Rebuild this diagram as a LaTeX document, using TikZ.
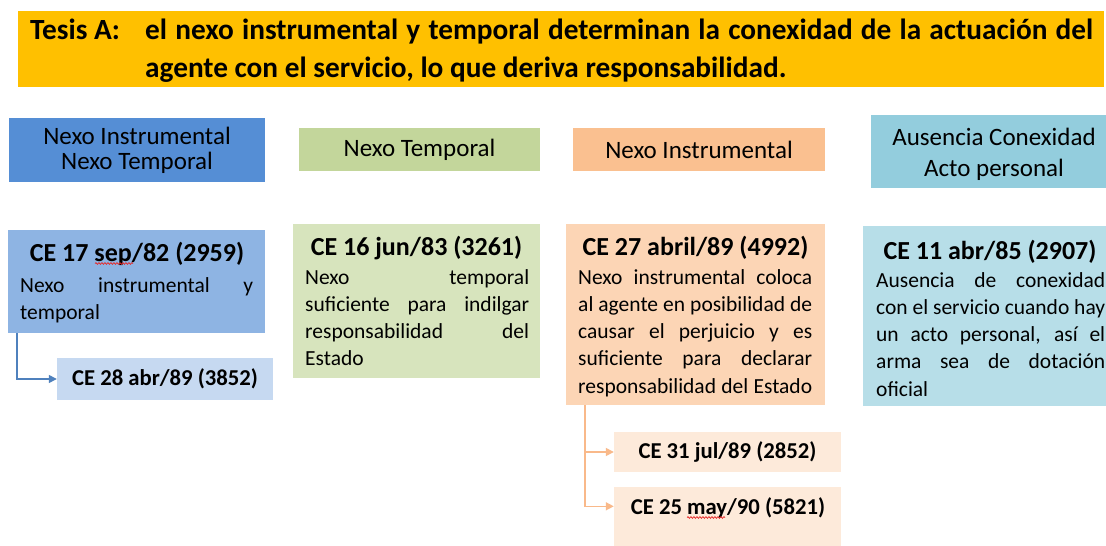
\documentclass[tikz,border=0pt]{standalone}
\usepackage{fontspec}
\setmainfont{Carlito}
\usetikzlibrary{arrows.meta,decorations.pathmorphing}
\definecolor{gold}{RGB}{255,192,0}
\definecolor{hblue}{RGB}{85,142,213}
\definecolor{bblue}{RGB}{142,180,227}
\definecolor{lblue}{RGB}{198,217,241}
\definecolor{hgreen}{RGB}{195,214,155}
\definecolor{bgreen}{RGB}{215,228,189}
\definecolor{horange}{RGB}{250,192,144}
\definecolor{borange}{RGB}{252,213,181}
\definecolor{lorange}{RGB}{253,234,218}
\definecolor{hteal}{RGB}{147,205,221}
\definecolor{bteal}{RGB}{183,222,232}
\definecolor{arblue}{RGB}{79,129,189}
\definecolor{arorange}{RGB}{249,185,138}
\definecolor{spellred}{RGB}{230,40,40}
\newcommand\spr[2]{\makebox[#1][s]{#2}}
\newcommand\bodyf{\fontsize{21.5}{27.3}\selectfont}
\begin{document}
\begin{tikzpicture}[x=1pt,y=-1pt,
  box/.style={rectangle, inner sep=0pt, draw=none},
  hdr/.style={box, align=center, font=\fontsize{25}{25}\selectfont},
  cehead/.style={inner sep=0pt, anchor=base, font=\bfseries\fontsize{26}{30}\selectfont},
  cesmall/.style={box, font=\bfseries\fontsize{22.7}{26}\selectfont},
  bodytext/.style={inner sep=0pt, anchor=base west},
  conn/.style={-{Triangle[length=8pt,width=8pt]}, line width=1.4pt},
  spell/.style={spellred, line width=0.7pt, decorate, decoration={snake, amplitude=0.9pt, segment length=3pt}}]
\useasboundingbox (0,0) rectangle (1106,546);
\clip (0,0) rectangle (1106,546);
\fill[white] (0,0) rectangle (1106,546);

% title banner
\node[box, fill=gold, minimum width=1086pt, minimum height=76pt] (banner) at (561,49) {};
\node[inner sep=0pt, anchor=base west, font=\bfseries\fontsize{29.3}{38}\selectfont] (tesis) at (30,39.5) {Tesis A:};
\node[inner sep=0pt, anchor=base west] (titletext) at (145,39.5) {\parbox[t]{948pt}{\bfseries\fontsize{29.3}{38}\selectfont
\spr{948pt}{el nexo instrumental y temporal determinan la conexidad de la actuación del}\\
agente con el servicio, lo que deriva responsabilidad.}};

% headers
\node[hdr, fill=hblue, minimum width=256pt, minimum height=64pt] (h1) at (137,150) {Nexo Instrumental\\Nexo Temporal};
\node[hdr, fill=hgreen, minimum width=241pt, minimum height=43pt] (h2) at (419.5,149.5) {Nexo Temporal};
\node[hdr, fill=horange, minimum width=252pt, minimum height=43pt] (h3) at (699,149.5) {Nexo Instrumental};
\node[box, fill=hteal, minimum width=246pt, minimum height=73pt] (h4) at (994,151.5) {};
\node[hdr, font=\fontsize{25}{31}\selectfont] (h4t) at (994,154.5) {Ausencia Conexidad\\Acto personal};

% column 1
\node[box, fill=bblue, minimum width=257pt, minimum height=103pt] (ce17) at (136.5,281.5) {};
\node[cehead] (ce17h) at (137,261.5) {CE 17 sep/82 (2959)};
\draw[spell] (95,263.5) -- (133,263.5);
\node[bodytext] (ce17b) at (20,292) {\parbox[t]{233pt}{\bodyf
\spr{233pt}{Nexo instrumental y}\\
temporal}};
\node[cesmall, fill=lblue, minimum width=216pt, minimum height=42pt] (ce28) at (165,379) {CE 28 abr/89 (3852)};
\draw[conn, arblue] ([xshift=9pt]ce17.south west) |- (ce28.west);

% column 2
\node[box, fill=bgreen, minimum width=247pt, minimum height=154pt] (ce16) at (416.5,301) {};
\node[cehead] (ce16h) at (416.5,255.5) {CE 16 jun/83 (3261)};
\node[bodytext] (ce16b) at (305,284) {\parbox[t]{224pt}{\bodyf
\spr{224pt}{Nexo temporal}\\
\spr{224pt}{suficiente para indilgar}\\
\spr{224pt}{responsabilidad del}\\
Estado}};

% column 3
\node[box, fill=borange, minimum width=259pt, minimum height=181pt] (ce27) at (695.5,314.5) {};
\node[cehead] (ce27h) at (695.5,255.5) {CE 27 abril/89 (4992)};
\node[bodytext] (ce27b) at (578,284) {\parbox[t]{234pt}{\bodyf
\spr{234pt}{Nexo instrumental coloca}\\
\spr{234pt}{al agente en posibilidad de}\\
\spr{234pt}{causar el perjuicio y es}\\
\spr{234pt}{suficiente para declarar}\\
\spr{234pt}{responsabilidad del Estado}}};
\node[cesmall, fill=lorange, minimum width=227pt, minimum height=40pt] (ce31) at (727.5,452) {CE 31 jul/89 (2852)};
\node[box, fill=lorange, minimum width=227pt, minimum height=59pt] (ce25) at (727.5,516.5) {};
\node[cesmall, anchor=base] (ce25t) at (728,514.5) {CE 25 may/90 (5821)};
\draw[spell] (687,517.5) -- (725,517.5);
\draw[conn, arorange] ([xshift=19pt]ce27.south west) |- (ce31.west);
\draw[conn, arorange] ([xshift=19pt]ce27.south west) |- ([yshift=-19.5pt]ce25.north west);

% column 4
\node[box, fill=bteal, minimum width=253pt, minimum height=180pt] (ce11) at (989.5,315.5) {};
\node[cehead] (ce11h) at (990,259.5) {CE 11 abr/85 (2907)};
\node[bodytext] (ce11b) at (876,287) {\parbox[t]{229pt}{\bodyf
\spr{229pt}{Ausencia de conexidad}\\
\spr{229pt}{con el servicio cuando hay}\\
\spr{229pt}{un acto personal, así el}\\
\spr{229pt}{arma sea de dotación}\\
oficial}};
\end{tikzpicture}
\end{document}
